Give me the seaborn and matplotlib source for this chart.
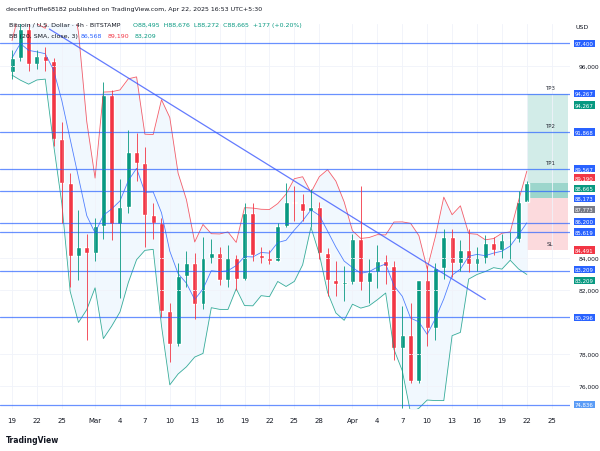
import numpy as np
import pandas as pd
import matplotlib
matplotlib.use("Agg")
import matplotlib.pyplot as plt
import seaborn as sns

dates = pd.date_range("2025-02-19", "2025-04-22", freq="D")
opens = [95600, 96500, 98300, 96100, 96600, 96300, 91400, 88700, 84100, 84700,
         84300, 86000, 94200, 86100, 87200, 90600, 89900, 86700, 86200, 80700,
         78600, 82900, 83700, 81100, 84000, 84300, 82600, 84000, 82700, 86800,
         84200, 84000, 83800, 86000, 87500, 87400, 86900, 87200, 84300, 82600,
         82400, 82500, 85200, 82500, 83100, 83800, 83500, 78400, 79200, 76300,
         82600, 79600, 83400, 85300, 83700, 84500, 83600, 84000, 84900, 84500,
         85100, 85200, 87500]
closes = [96500, 98300, 96100, 96600, 96300, 91400, 88700, 84100, 84700, 84300,
          86000, 94200, 86100, 87200, 90600, 89900, 86700, 86200, 80700, 78600,
          82900, 83700, 81100, 84000, 84300, 82600, 84000, 82700, 86800, 84200,
          84000, 83800, 86000, 87500, 87400, 86900, 87200, 84300, 82600, 82400,
          82500, 85200, 82500, 83100, 83800, 83500, 78400, 79200, 76300, 82600,
          79600, 83400, 85300, 83700, 84500, 83600, 84000, 84900, 84500, 85100,
          85200, 87500, 88665]
highs = [97000, 99200, 99400, 97000, 97200, 96500, 92500, 89300, 87000, 85500,
         86500, 95000, 94500, 88900, 92000, 91800, 90900, 87400, 86500, 81200,
         83700, 84400, 84300, 85300, 85200, 84700, 84800, 84200, 87400, 87400,
         84700, 84500, 86200, 88700, 88500, 88000, 88300, 87500, 84600, 83800,
         83500, 85500, 88500, 83900, 84800, 84200, 83800, 81000, 81200, 80800,
         83500, 83700, 85800, 85800, 85100, 85800, 84700, 85400, 85300, 85500,
         85600, 88200, 88800]
lows = [95200, 96300, 95700, 95800, 95700, 91000, 86200, 82200, 82600, 78900,
        83800, 85200, 85100, 81500, 86800, 88800, 84700, 85200, 80300, 77500,
        78500, 82200, 80200, 80800, 83700, 82300, 82200, 82000, 82600, 83800,
        83700, 83600, 83800, 85900, 86300, 86300, 85900, 83900, 81600, 81600,
        81300, 82400, 82000, 81200, 82100, 82400, 77600, 74600, 76200, 76200,
        78500, 78900, 82700, 82800, 83200, 83100, 83200, 83700, 84200, 84000,
        83900, 85000, 87600]

levels = [97400, 94267, 91868, 89567, 88173, 86200, 85619, 83209, 80296, 74836]
right_labels = [("97,400", "#2962ff"), ("94,267", "#2962ff"), ("94,267", "#089981"),
                ("91,868", "#2962ff"), ("89,567", "#2962ff"), ("89,190", "#f23645"),
                ("88,665", "#089981"), ("88,173", "#2962ff"), ("87,773", "#787b86"),
                ("86,200", "#2962ff"), ("85,619", "#2962ff"), ("84,491", "#f23645"),
                ("83,209", "#2962ff"), ("83,209", "#089981"), ("80,296", "#2962ff"),
                ("74,836", "#5b9cf6")]
right_values = [97400, 94267, 93550, 91868, 89567, 89000, 88350, 87700, 87050,
                86300, 85619, 84491, 83300, 82600, 80296, 74836]
y_ticks = [76000, 78000, 82000, 84000, 96000]
tick_days = [0, 3, 6, 10, 13, 16, 19, 22, 25, 28, 31, 34, 37, 41, 44, 47, 50, 53, 56, 59, 62, 65]
tick_text = ["19", "22", "25", "Mar", "4", "7", "10", "13", "16", "19", "22", "25", "28",
             "Apr", "4", "7", "10", "13", "16", "19", "22", "25"]

df = pd.DataFrame({"day": np.arange(len(dates)), "open": opens, "close": closes,
                   "high": highs, "low": lows})
mid = df["close"].rolling(5, min_periods=1).mean()
sd = df["close"].rolling(5, min_periods=1).std().fillna(600)
df["basis"] = mid
df["upper"] = mid + 1.8 * sd
df["lower"] = mid - 1.8 * sd

fig = plt.figure(figsize=(6, 4.52), dpi=100)
ax = fig.add_axes([0.0, 0.093, 0.95, 0.852])
sns.set_style("white")
ax.set_xlim(-1.45, 67.2)
ax.set_ylim(74560, 98625)
ax.grid(True, color="#f0f3fa", lw=0.6)
for s in ax.spines.values():
    s.set_visible(False)

ax.fill_between(df["day"], df["lower"], df["upper"], color="#2196f3", alpha=0.06, lw=0)
sns.lineplot(data=df, x="day", y="upper", ax=ax, color="#f23645", lw=0.6, alpha=0.8)
sns.lineplot(data=df, x="day", y="lower", ax=ax, color="#089981", lw=0.6, alpha=0.8)
sns.lineplot(data=df, x="day", y="basis", ax=ax, color="#2962ff", lw=0.6, alpha=0.8)

for lv in levels:
    ax.axhline(lv, color="#2962ff", lw=0.9, alpha=0.7)

ax.plot([4.5, 57], [98300, 81400], color="#3d5afe", lw=0.9, alpha=0.8)

ax.fill_between([62, 67], 88665, 94267, color="#089981", alpha=0.18, lw=0)
ax.fill_between([62, 67], 87773, 88665, color="#089981", alpha=0.4, lw=0)
ax.fill_between([62, 67], 84491, 87773, color="#f23645", alpha=0.18, lw=0)
for t, v in [("TP3", 94267), ("TP2", 91868), ("TP1", 89567), ("SL", 84491)]:
    ax.text(64.8, v + 250, t, fontsize=4, color="#2a2e39", ha="center", va="bottom")

up = df["close"] >= df["open"]
colors = np.where(up, "#089981", "#f23645")
ax.vlines(df["day"], df["low"], df["high"], colors=colors, lw=0.6)
ax.bar(df["day"], (df["close"] - df["open"]).abs().clip(lower=60),
       bottom=np.minimum(df["open"], df["close"]), width=0.6, color=colors)

ax.set_xlabel("")
ax.set_ylabel("")
ax.set_xticks(tick_days)
ax.set_xticklabels(tick_text, fontsize=5, color="#131722")
ax.tick_params(length=0, pad=6)
ax.yaxis.tick_right()
ax.set_yticks(y_ticks)
ax.set_yticklabels([f"{v:,}" for v in y_ticks], fontsize=4.3, color="#131722")
ax.yaxis.set_tick_params(pad=6)

for (txt, c), v in zip(right_labels, right_values):
    ax.text(1.0 + 5 / 570, v, txt, transform=ax.get_yaxis_transform(), fontsize=3.9,
            color="white", va="center", ha="left", zorder=10,
            bbox=dict(boxstyle="square,pad=0.2", fc=c, ec="none"))

fig.text(0.01, 0.985, "decentTruffle68182 published on TradingView.com, Apr 22, 2025 16:53 UTC+5:30",
         fontsize=4.5, color="#131722", va="top")
fig.text(0.015, 0.95, "Bitcoin / U.S. Dollar · 4h · BITSTAMP", fontsize=4.5, color="#131722", va="top")
fig.text(0.222, 0.95, "O88,495  H88,676  L88,272  C88,665  +177 (+0.20%)", fontsize=4.5,
         color="#089981", va="top")
fig.text(0.015, 0.925, "BB (20, SMA, close, 3)", fontsize=4.5, color="#131722", va="top")
fig.text(0.135, 0.925, "86,568", fontsize=4.5, color="#2962ff", va="top")
fig.text(0.18, 0.925, "89,190", fontsize=4.5, color="#f23645", va="top")
fig.text(0.225, 0.925, "83,209", fontsize=4.5, color="#089981", va="top")
fig.text(0.96, 0.945, "USD", fontsize=4.5, color="#131722", va="top")
fig.text(0.01, 0.02, "TradingView", fontsize=5.5, color="#131722", weight="bold")

fig.savefig("out.png", dpi=100, facecolor="white")
